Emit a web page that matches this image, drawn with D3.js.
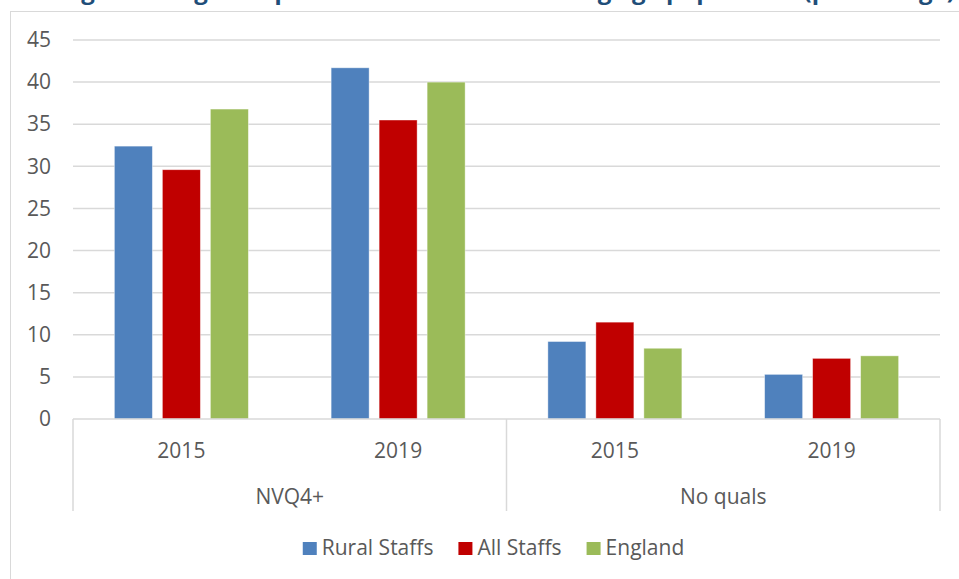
<!DOCTYPE html>
<html>
<head>
<meta charset="utf-8">
<script src="https://cdn.jsdelivr.net/npm/d3@7"></script>
<style>
  html, body { margin: 0; padding: 0; background: #fff; }
  svg { display: block; }
  text { font-family: "Open Sans", "Liberation Sans", sans-serif; }
</style>
</head>
<body>
<svg id="chart" width="959" height="579"></svg>
<script>
// ---- data ----
const groups = ["NVQ4+", "No quals"];
const years = ["2015", "2019"];
const categories = [
  { group: "NVQ4+", year: "2015" },
  { group: "NVQ4+", year: "2019" },
  { group: "No quals", year: "2015" },
  { group: "No quals", year: "2019" }
];
const seriesNames = ["Rural Staffs", "All Staffs", "England"];
const ruralStaffs = [32.4, 41.7, 9.2, 5.3];
const allStaffs   = [29.6, 35.5, 11.5, 7.2];
const england     = [36.8, 40.0, 8.4, 7.5];
const yTicks = [0, 5, 10, 15, 20, 25, 30, 35, 40, 45];
const titleText = "Figure 3: Highest qualifications of the working age population (percentage)";

const seriesValues = [ruralStaffs, allStaffs, england];
const colors = ["#4F81BD", "#C00000", "#9BBB59"];

// ---- layout ----
const svg = d3.select("#chart");
const plotLeft = 73, plotRight = 940, plotTop = 40, plotBottom = 419;
const labelColor = "#595959";
const fontSize = 21;

// outer chart frame
svg.append("rect")
  .attr("x", 10.5).attr("y", 11.5)
  .attr("width", 960).attr("height", 600)
  .attr("fill", "none").attr("stroke", "#D9D9D9").attr("stroke-width", 1);

// title (clipped by top edge, as in the source image)
svg.append("text")
  .attr("x", 955).attr("y", -1)
  .attr("text-anchor", "end")
  .attr("font-size", 24).attr("font-weight", "bold")
  .attr("fill", "#1F4E79")
  .text(titleText);

const y = d3.scaleLinear().domain([0, 45]).range([plotBottom, plotTop]);
const x0 = d3.scaleBand().domain(d3.range(categories.length)).range([plotLeft, plotRight]).padding(0);
const step = 48;
const innerPadding = 10 / step;
const outerPadding = (x0.bandwidth() / step - 3 + innerPadding) / 2;
const x1 = d3.scaleBand().domain(d3.range(seriesNames.length))
  .range([0, x0.bandwidth()]).paddingInner(innerPadding).paddingOuter(outerPadding);

// gridlines
svg.append("g")
  .selectAll("line")
  .data(yTicks.filter(t => t > 0))
  .join("line")
  .attr("x1", plotLeft).attr("x2", plotRight)
  .attr("y1", d => y(d)).attr("y2", d => y(d))
  .attr("stroke", "#D9D9D9").attr("stroke-width", 1.5);

// y axis labels
const yAxis = d3.axisLeft(y).tickValues(yTicks).tickSize(0).tickPadding(0);
const yg = svg.append("g").attr("transform", `translate(51,0)`).call(yAxis);
yg.select(".domain").remove();
yg.selectAll("text")
  .attr("font-size", fontSize).attr("fill", labelColor)
  .attr("font-family", "'Open Sans', sans-serif");

// bars
const barG = svg.append("g");
categories.forEach((c, ci) => {
  seriesValues.forEach((vals, si) => {
    barG.append("rect")
      .attr("x", x0(ci) + x1(si))
      .attr("y", y(vals[ci]))
      .attr("width", x1.bandwidth())
      .attr("height", y(0) - y(vals[ci]))
      .attr("fill", colors[si])
      .attr("stroke", "#ffffff").attr("stroke-opacity", 0.5).attr("stroke-width", 0.8);
  });
});

// category axis (multi-level)
const axisColor = "#D9D9D9";
svg.append("line")
  .attr("x1", plotLeft).attr("x2", plotRight)
  .attr("y1", plotBottom).attr("y2", plotBottom)
  .attr("stroke", axisColor).attr("stroke-width", 1.5);

const groupScale = d3.scaleBand().domain(groups).range([plotLeft, plotRight]).padding(0);
const sepXs = [plotLeft, ...groups.map(g => groupScale(g) + groupScale.bandwidth())];
svg.append("g").selectAll("line")
  .data(sepXs)
  .join("line")
  .attr("x1", d => d).attr("x2", d => d)
  .attr("y1", plotBottom).attr("y2", 511)
  .attr("stroke", axisColor).attr("stroke-width", 1.5);

svg.append("g").selectAll("text")
  .data(categories)
  .join("text")
  .attr("x", (d, i) => x0(i) + x0.bandwidth() / 2)
  .attr("y", 458)
  .attr("text-anchor", "middle")
  .attr("font-size", fontSize).attr("fill", labelColor)
  .text(d => d.year);

svg.append("g").selectAll("text")
  .data(groups)
  .join("text")
  .attr("x", d => groupScale(d) + groupScale.bandwidth() / 2)
  .attr("y", 504)
  .attr("text-anchor", "middle")
  .attr("font-size", fontSize).attr("fill", labelColor)
  .text(d => d);

// legend
const legendG = svg.append("g");
const legendItems = legendG.selectAll("g")
  .data(seriesNames)
  .join("g");
legendItems.append("rect")
  .attr("width", 14).attr("height", 13)
  .attr("y", 542)
  .attr("fill", (d, i) => colors[i]);
legendItems.append("text")
  .attr("x", 19).attr("y", 555)
  .attr("font-size", fontSize).attr("fill", labelColor)
  .text(d => d);
let widths = [];
legendItems.each(function () { widths.push(this.getBBox().width); });
const gap = 25;
const total = d3.sum(widths) + gap * (widths.length - 1);
let cx = 493.5 - total / 2;
legendItems.attr("transform", (d, i) => {
  const t = `translate(${cx},0)`;
  cx += widths[i] + gap;
  return t;
});
</script>
</body>
</html>
